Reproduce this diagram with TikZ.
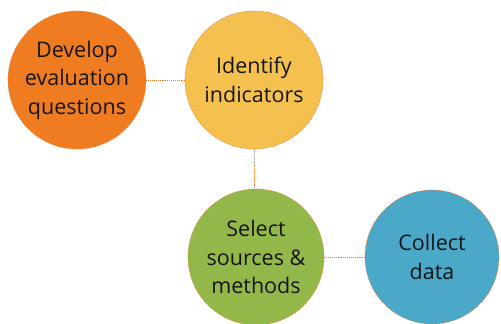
\documentclass[tikz,border=0pt]{standalone}
\usepackage{fontspec}
\setmainfont{Open Sans}
\definecolor{corange}{HTML}{F07C22}
\definecolor{cyellow}{HTML}{F4C14F}
\definecolor{cgreen}{HTML}{93B84A}
\definecolor{cblue}{HTML}{4AA8C8}
\definecolor{cline}{HTML}{E8782A}
\definecolor{ctext}{HTML}{151515}
\begin{document}
\begin{tikzpicture}[x=1pt,y=1pt,
  bubble/.style={circle, minimum size=138pt, inner sep=0pt, draw=cline, densely dotted, line width=0.7pt,
    align=center, text=ctext, font=\fontsize{21.5}{28.5}\selectfont},
  link/.style={draw=cline, densely dotted, line width=0.9pt}]
\useasboundingbox (0,0) rectangle (501,-324);
\node[bubble, fill=corange] (dev) at (77,-80) {Develop\\evaluation\\questions};
\node[bubble, fill=cyellow] (ind) at (254,-80) {Identify\\indicators};
\node[bubble, fill=cgreen, minimum size=136pt] (sel) at (256,-257) {Select\\sources \&\\methods};
\node[bubble, fill=cblue, minimum size=134pt] (col) at (432,-257) {Collect\\data};
\draw[link] (dev) -- (ind);
\draw[link] (ind.south) -- (ind.south |- sel.north);
\draw[link] (sel) -- (col);
\end{tikzpicture}
\end{document}
